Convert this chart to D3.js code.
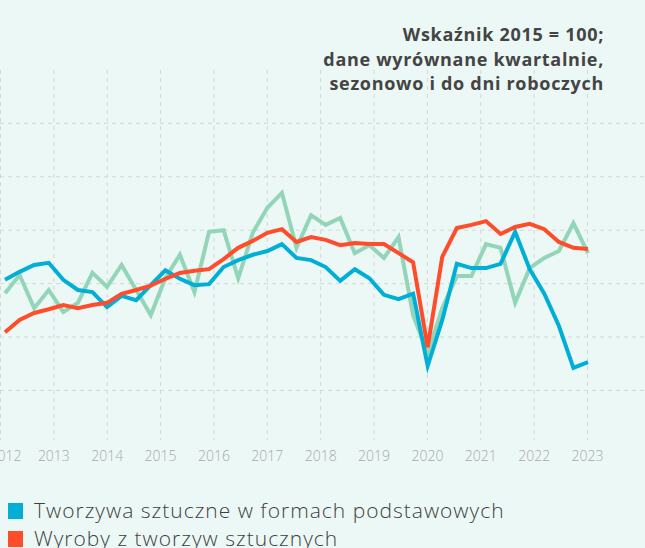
<!DOCTYPE html>
<html>
<head>
<meta charset="utf-8">
<script src="https://cdn.jsdelivr.net/npm/d3@7"></script>
<style>
  html, body { margin: 0; padding: 0; background: #ecf8f5; overflow: hidden; }
  svg { display: block; }
</style>
</head>
<body>
<svg id="chart" width="645" height="548"></svg>
<script>
const quarters = [
  "2013 Q1","2013 Q2","2013 Q3","2013 Q4",
  "2014 Q1","2014 Q2","2014 Q3","2014 Q4",
  "2015 Q1","2015 Q2","2015 Q3","2015 Q4",
  "2016 Q1","2016 Q2","2016 Q3","2016 Q4",
  "2017 Q1","2017 Q2","2017 Q3","2017 Q4",
  "2018 Q1","2018 Q2","2018 Q3","2018 Q4",
  "2019 Q1","2019 Q2","2019 Q3","2019 Q4",
  "2020 Q1","2020 Q2","2020 Q3","2020 Q4",
  "2021 Q1","2021 Q2","2021 Q3","2021 Q4",
  "2022 Q1","2022 Q2","2022 Q3","2022 Q4",
  "2023 Q1"
];
const yearLabels = ["2012","2013","2014","2015","2016","2017","2018","2019","2020","2021","2022","2023"];
const yTicks = [80, 90, 100, 110, 120, 130];

const seriesNames = [
  "Tworzywa sztuczne w formach podstawowych",
  "Wyroby z tworzyw sztucznych",
  "Gumy i wyroby z gumy"
];

const tworzywa = [100.7,102.2,103.5,103.9,100.7,98.8,98.4,95.6,97.7,96.9,99.7,102.5,100.9,99.7,99.9,103.1,104.4,105.4,106.1,107.4,104.8,104.4,103.1,100.5,102.7,101.0,97.9,97.1,98.1,84.6,93.2,103.7,102.9,102.9,103.7,109.7,102.7,98.1,92.1,84.2,85.3];
const wyroby = [90.9,93.2,94.5,95.2,96.0,95.4,96.0,96.4,98.1,98.8,99.6,100.9,102.0,102.4,102.7,104.6,106.7,108.0,109.5,110.2,107.8,108.7,108.2,107.2,107.6,107.4,107.4,105.7,104.0,88.1,105.0,110.4,111.0,111.7,109.3,110.6,111.2,110.2,107.8,106.7,106.5];
const gumy = [98.2,101.6,95.4,98.8,94.7,96.4,102.0,99.4,103.5,98.8,94.1,101.0,105.4,98.4,109.7,110.0,101.0,109.5,114.2,117.0,106.7,112.8,111.0,112.3,105.7,107.2,104.8,108.7,94.1,87.0,95.4,101.4,101.4,107.4,106.7,96.4,102.9,104.8,106.1,111.3,105.7];

const colors = ["#00aed6", "#ff4d2b", "#92d5b8"];

const svg = d3.select("#chart");
const W = 645, H = 548;
const plotTop = 70, plotBottom = 443.8;

const x = d3.scalePoint().domain(quarters).range([5, 588]);
const xYear = d3.scalePoint().domain(yearLabels).range([0, 587]);
const y = d3.scaleLinear().domain([70, 140]).range([plotBottom, plotTop]);

const grid = svg.append("g");
grid.selectAll("line.h").data(yTicks).join("line")
  .attr("x1", 0).attr("x2", W)
  .attr("y1", d => y(d)).attr("y2", d => y(d))
  .attr("stroke", "#d2d8d6").attr("stroke-width", 1).attr("stroke-dasharray", "4,4");
grid.selectAll("line.v").data(yearLabels).join("line")
  .attr("x1", d => xYear(d) + 0.5).attr("x2", d => xYear(d) + 0.5)
  .attr("y1", plotTop).attr("y2", plotBottom - 4)
  .attr("stroke", "#d2d8d6").attr("stroke-width", 1).attr("stroke-dasharray", "4,4");

const xAxis = d3.axisBottom(xYear).tickSize(0).tickPadding(0);
const gx = svg.append("g").attr("transform", `translate(0, ${plotBottom})`).call(xAxis);
gx.select(".domain").remove();
gx.selectAll("text")
  .attr("dy", null).attr("y", 17)
  .attr("fill", "#a9a9a9")
  .style("font-family", "'Open Sans', sans-serif")
  .style("font-size", "14px")
  .style("font-weight", 300);
gx.selectAll(".tick").filter(d => d === "2012").select("text").attr("x", 5);

const line = d3.line().x((d, i) => x(quarters[i])).y(d => y(d));
const drawOrder = [[gumy, colors[2]], [tworzywa, colors[0]], [wyroby, colors[1]]];
svg.append("g").selectAll("path").data(drawOrder).join("path")
  .attr("d", d => line(d[0]))
  .attr("fill", "none")
  .attr("stroke", d => d[1])
  .attr("stroke-width", 4)
  .attr("stroke-linejoin", "miter")
  .attr("stroke-linecap", "butt");

const title = svg.append("text")
  .attr("text-anchor", "end")
  .attr("fill", "#444444")
  .style("font-family", "'Open Sans', sans-serif")
  .style("font-size", "18px")
  .style("font-weight", 700)
  .style("letter-spacing", "0.7px");
["Wskaźnik 2015 = 100;", "dane wyrównane kwartalnie,", "sezonowo i do dni roboczych"].forEach((t, i) => {
  title.append("tspan").attr("x", 604).attr("y", 41 + i * 24.5).text(t);
});

const legend = svg.append("g");
seriesNames.forEach((n, i) => {
  const gy = 503 + i * 28;
  legend.append("rect").attr("x", 8).attr("y", gy).attr("width", 15).attr("height", 16).attr("fill", colors[i]);
  legend.append("text").attr("x", 34).attr("y", gy + 15)
    .attr("fill", "#3f3f3f")
    .style("font-family", "'Open Sans', sans-serif")
    .style("font-size", "21px")
    .style("font-weight", 300)
    .style("letter-spacing", "1px")
    .text(n);
});
</script>
</body>
</html>
